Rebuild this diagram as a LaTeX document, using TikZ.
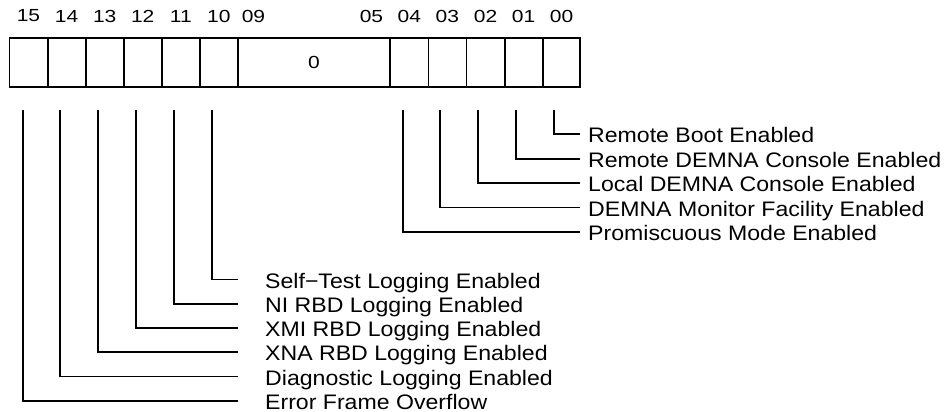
\documentclass[tikz,border=0pt]{standalone}
\usepackage{fontspec}
\setmainfont{Liberation Sans}[FakeStretch=1.1]
\newfontfamily\bitfont{Liberation Sans}[FakeStretch=1.2]

\tikzset{
  regline/.style={line width=1.8pt},
  bitnum/.style={inner sep=0pt, font=\bitfont\fontsize{17.5}{17.5}\selectfont},
  flagtext/.style={anchor=base west, inner sep=0pt, font=\fontsize{21}{24}\selectfont},
}

\begin{document}
\begin{tikzpicture}[x=1pt, y=-1pt]
  \useasboundingbox (0,0) rectangle (946,412);

  %% =================== REGISTER ====================
  \draw[regline] (9.5,38) rectangle (580,87);
  \foreach \x in {47.6,85.7,123.7,161.8,199.9,238,390.3,428.4,466.5,504.6,542.6}
    \draw[regline] (\x,38) -- (\x,87);
  \node[bitnum] (zero) at (314,62.5) {0};

  % bit numbers over the cells
  \node[bitnum] (b15) at (28.5,16) {15};
  \node[bitnum] (b14) at (66.6,16) {14};
  \node[bitnum] (b13) at (104.7,16) {13};
  \node[bitnum] (b12) at (142.7,16) {12};
  \node[bitnum] (b11) at (180.8,16) {11};
  \node[bitnum] (b10) at (218.9,16) {10};
  \node[bitnum] (b09) at (253.5,16) {09};
  \node[bitnum] (b05) at (371.5,16) {05};
  \node[bitnum] (b04) at (409.3,16) {04};
  \node[bitnum] (b03) at (447.4,16) {03};
  \node[bitnum] (b02) at (485.5,16) {02};
  \node[bitnum] (b01) at (523.6,16) {01};
  \node[bitnum] (b00) at (561.6,16) {00};

  %% ================ LOW BITS (right) ================
  \coordinate (t04) at (402.7,110);
  \coordinate (t03) at (440.3,110);
  \coordinate (t02) at (478.3,110);
  \coordinate (t01) at (516,110);
  \coordinate (t00) at (554,110);

  \node[flagtext] (f00) at (588,142.8) {Remote Boot Enabled};
  \node[flagtext] (f01) at (588,167.2) {Remote DEMNA Console Enabled};
  \node[flagtext] (f02) at (588,191.6) {Local DEMNA Console Enabled};
  \node[flagtext] (f03) at (588,216) {DEMNA Monitor Facility Enabled};
  \node[flagtext] (f04) at (588,240.4) {Promiscuous Mode Enabled};

  \draw[regline] (t00) |- ([xshift=-8pt,yshift=8.5pt]f00.base west);
  \draw[regline] (t01) |- ([xshift=-8pt,yshift=8.5pt]f01.base west);
  \draw[regline] (t02) |- ([xshift=-8pt,yshift=8.5pt]f02.base west);
  \draw[regline] (t03) |- ([xshift=-8pt,yshift=8.5pt]f03.base west);
  \draw[regline] (t04) |- ([xshift=-8pt,yshift=8.5pt]f04.base west);

  %% ================ HIGH BITS (left) ================
  \coordinate (t15) at (22.7,110);
  \coordinate (t14) at (60.3,110);
  \coordinate (t13) at (98.3,110);
  \coordinate (t12) at (136,110);
  \coordinate (t11) at (174,110);
  \coordinate (t10) at (212.3,110);

  \node[flagtext] (f10) at (265,288) {Self−Test Logging Enabled};
  \node[flagtext] (f11) at (265,312.25) {NI RBD Logging Enabled};
  \node[flagtext] (f12) at (265,336.5) {XMI RBD Logging Enabled};
  \node[flagtext] (f13) at (265,360.75) {XNA RBD Logging Enabled};
  \node[flagtext] (f14) at (265,385) {Diagnostic Logging Enabled};
  \node[flagtext] (f15) at (265,409.25) {Error Frame Overflow};

  \draw[regline] (t10) |- ([xshift=-27pt,yshift=8.5pt]f10.base west);
  \draw[regline] (t11) |- ([xshift=-27pt,yshift=8.5pt]f11.base west);
  \draw[regline] (t12) |- ([xshift=-27pt,yshift=8.5pt]f12.base west);
  \draw[regline] (t13) |- ([xshift=-27pt,yshift=8.5pt]f13.base west);
  \draw[regline] (t14) |- ([xshift=-27pt,yshift=8.5pt]f14.base west);
  \draw[regline] (t15) |- ([xshift=-27pt,yshift=8.5pt]f15.base west);

\end{tikzpicture}
\end{document}
